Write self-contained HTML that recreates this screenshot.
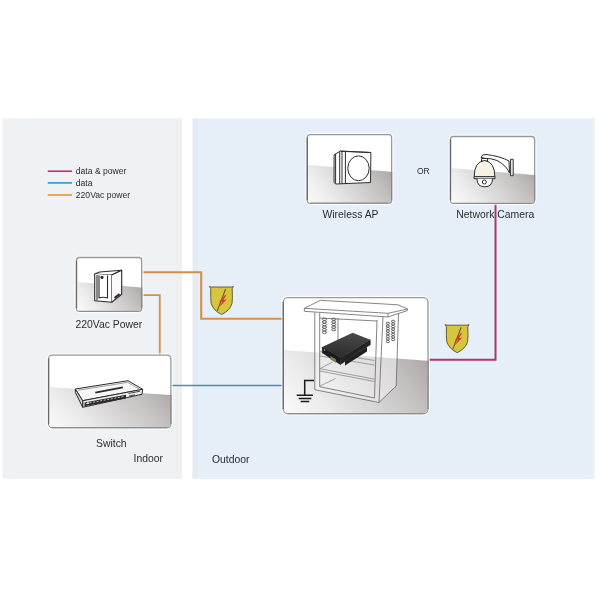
<!DOCTYPE html>
<html><head><meta charset="utf-8">
<style>
html,body{margin:0;padding:0;background:#fff;width:600px;height:600px;overflow:hidden}
svg{display:block;will-change:transform}
text{font-family:"Liberation Sans",sans-serif;fill:#2c2c2c}
</style></head>
<body>
<svg width="600" height="600" viewBox="0 0 600 600">
<defs>
  <linearGradient id="gshade" x1="0" y1="1" x2="1.2" y2="0.6">
    <stop offset="0" stop-color="#fafafa"/>
    <stop offset="0.25" stop-color="#ebebeb"/>
    <stop offset="0.75" stop-color="#c3bfbf"/>
    <stop offset="1" stop-color="#a9a4a4"/>
  </linearGradient>
  <linearGradient id="gdev" x1="0.6" y1="0" x2="0.4" y2="1">
    <stop offset="0" stop-color="#4a4a4a"/>
    <stop offset="1" stop-color="#2c2c2c"/>
  </linearGradient>
</defs>
<!-- panels -->
<rect x="2.8" y="118.5" width="179.2" height="360.2" fill="#eef2f5"/>
<rect x="2.8" y="118.5" width="13" height="360.2" fill="#f0f1f3"/>
<rect x="176" y="118.5" width="6" height="360.2" fill="#f0f0f1"/>
<rect x="192.6" y="118.5" width="401.7" height="360.3" fill="#e6eef8"/>
<rect x="591.7" y="118.5" width="2.6" height="360.3" fill="#ebeff2"/>
<rect x="192.6" y="472" width="399.1" height="6.8" fill="#e9f0f8"/>
<rect x="192.6" y="118.5" width="5" height="360.2" fill="#e6ebf0"/>

<!-- legend -->
<line x1="47.7" y1="171.2" x2="72" y2="171.2" stroke="#b83a78" stroke-width="1.7"/>
<line x1="47.7" y1="182.9" x2="72" y2="182.9" stroke="#3a9ad0" stroke-width="1.7"/>
<line x1="47.7" y1="195" x2="72" y2="195" stroke="#e89a40" stroke-width="1.7"/>
<text x="75.8" y="174.2" font-size="8.6">data &amp; power</text>
<text x="75.8" y="185.7" font-size="8.6">data</text>
<text x="75.8" y="197.6" font-size="8.6">220Vac power</text>

<!-- connection lines -->
<polyline points="142,272.3 201.2,272.3 201.2,318.8 283,318.8" fill="none" stroke="#d4904a" stroke-width="2.1"/>
<polyline points="142,295.2 159.8,295.2 159.8,355" fill="none" stroke="#d0924e" stroke-width="1.8"/>
<line x1="171" y1="385.5" x2="283" y2="385.5" stroke="#4d8cae" stroke-width="1.6"/>
<polyline points="428,359.8 495.5,359.8 495.5,203" fill="none" stroke="#a8386f" stroke-width="2"/>

<!-- device boxes -->
<rect x="76.5" y="257.5" width="65.2" height="53.8" rx="3" fill="#fff" stroke="#fff" stroke-opacity="0.7" stroke-width="4"/>
<rect x="76.5" y="257.5" width="65.2" height="53.8" rx="3" fill="#fff" stroke="#999" stroke-width="1.3"/>
<path d="M77.0,282 L141.2,287.5 L141.2,308.3 Q141.2,310.8 138.7,310.8 L79.5,310.8 Q77.0,310.8 77.0,308.3 Z" fill="url(#gshade)"/>
<path d="M76.5,260.5 L76.5,308.3" stroke="#6a6a6a" stroke-width="1.3"/>
<path d="M141.7,287.5 L141.7,308.3" stroke="#858585" stroke-width="1.2"/>
<path d="M79.5,311.3 L138.7,311.3" stroke="#8e8e8e" stroke-width="1.2"/>
<rect x="48.6" y="355.2" width="122.3" height="72.4" rx="3.5" fill="#fff" stroke="#fff" stroke-opacity="0.7" stroke-width="4"/>
<rect x="48.6" y="355.2" width="122.3" height="72.4" rx="3.5" fill="#fff" stroke="#999" stroke-width="1.3"/>
<path d="M49.1,387 L170.4,395 L170.4,424.1 Q170.4,427.1 167.4,427.1 L52.1,427.1 Q49.1,427.1 49.1,424.1 Z" fill="url(#gshade)"/>
<path d="M48.6,358.7 L48.6,424.1" stroke="#6a6a6a" stroke-width="1.3"/>
<path d="M170.9,395 L170.9,424.1" stroke="#858585" stroke-width="1.2"/>
<path d="M52.1,427.6 L167.4,427.6" stroke="#8e8e8e" stroke-width="1.2"/>
<rect x="307.3" y="134.6" width="84.3" height="68.6" rx="3" fill="#fff" stroke="#fff" stroke-opacity="0.7" stroke-width="4"/>
<rect x="307.3" y="134.6" width="84.3" height="68.6" rx="3" fill="#fff" stroke="#999" stroke-width="1.3"/>
<path d="M307.8,165 L391.1,171.7 L391.1,200.2 Q391.1,202.7 388.6,202.7 L310.3,202.7 Q307.8,202.7 307.8,200.2 Z" fill="url(#gshade)"/>
<path d="M307.3,137.6 L307.3,200.2" stroke="#6a6a6a" stroke-width="1.3"/>
<path d="M391.6,171.7 L391.6,200.2" stroke="#858585" stroke-width="1.2"/>
<path d="M310.3,203.2 L388.6,203.2" stroke="#8e8e8e" stroke-width="1.2"/>
<rect x="450.5" y="136.5" width="84.1" height="66.8" rx="3" fill="#fff" stroke="#fff" stroke-opacity="0.7" stroke-width="4"/>
<rect x="450.5" y="136.5" width="84.1" height="66.8" rx="3" fill="#fff" stroke="#999" stroke-width="1.3"/>
<path d="M451.0,168 L534.1,175 L534.1,200.3 Q534.1,202.8 531.6,202.8 L453.5,202.8 Q451.0,202.8 451.0,200.3 Z" fill="url(#gshade)"/>
<path d="M450.5,139.5 L450.5,200.3" stroke="#6a6a6a" stroke-width="1.3"/>
<path d="M534.6,175 L534.6,200.3" stroke="#858585" stroke-width="1.2"/>
<path d="M453.5,203.3 L531.6,203.3" stroke="#8e8e8e" stroke-width="1.2"/>
<rect x="283.3" y="297.6" width="144.7" height="116.0" rx="4.5" fill="#fff" stroke="#fff" stroke-opacity="0.7" stroke-width="4"/>
<rect x="283.3" y="297.6" width="144.7" height="116.0" rx="4.5" fill="#fff" stroke="#999" stroke-width="1.3"/>
<path d="M283.8,350 L427.5,360.7 L427.5,409.1 Q427.5,413.1 423.5,413.1 L287.8,413.1 Q283.8,413.1 283.8,409.1 Z" fill="url(#gshade)"/>
<path d="M283.3,302.1 L283.3,409.1" stroke="#6a6a6a" stroke-width="1.3"/>
<path d="M428,360.7 L428,409.1" stroke="#858585" stroke-width="1.2"/>
<path d="M287.8,413.6 L423.5,413.6" stroke="#8e8e8e" stroke-width="1.2"/>

<!-- UPS -->
<g fill="none" stroke="#2a2a2a" stroke-width="1.1" stroke-linejoin="round">
  <path d="M94.7,274 L99.7,272 L121.7,270.3 L111.7,275 Z" fill="#fff"/>
  <path d="M94.7,274 L94.7,300.7 L111.7,302.3 L111.7,275" fill="#fff"/>
  <path d="M111.7,275 L121.7,270.3 L121.7,294.3 L111.7,302.3" fill="#fbfbfb"/>
  <path d="M97,275 L97,300.5 M99,275.2 L99,298 Q103,296.5 107.5,298 L107.5,275.6"/>
  <path d="M114.5,298 L119.5,294" stroke-width="2"/>
  <circle cx="102" cy="277.3" r="1.1" fill="#2a2a2a"/>
</g>

<!-- Switch -->
<g stroke="#2c2c2c" stroke-width="1" stroke-linejoin="round">
  <path d="M75.3,389 L128,380.7 L142.7,389.3 L82.7,400.7 Z" fill="#f7f7f7"/>
  <path d="M82.7,400.7 L142.7,389.3 L142,394.3 L82.7,407.3 Z" fill="#ececec"/>
  <path d="M75.3,389 L82.7,400.7 L82.7,407.3 L75.3,392.3 Z" fill="#d0d0d0"/>
  <path d="M78,390.2 L127.5,382.4 L139.5,389.2" fill="none" stroke="#777" stroke-width="0.7"/>
  <path d="M95.3,392.6 L122.8,387.4" stroke-width="1.8"/>
</g>
<g fill="#2a2a2a">
  <path d="M84.5,402.5 L126,394.7 L126,398.6 L84.5,406.3 Z"/>
</g>
<g fill="#e8e8e8">
  <rect x="87" y="402.6" width="2" height="1.6" transform="skewY(-10.7)" transform-origin="87 402.6"/>
</g>
<g stroke="#dcdcdc" stroke-width="0.8" fill="none">
  <path d="M86,403.6 L125,396.3" stroke-dasharray="2 1.6"/>
</g>
<g stroke="#333" stroke-width="0.9" fill="none">
  <path d="M128.5,393.5 L140,391.2 M129,396 L135,394.8"/>
</g>

<!-- AP -->
<g fill="#fff" stroke="#2e2e2e" stroke-width="1" stroke-linejoin="round">
  <path d="M334.1,154.8 L340.5,151 L370.9,152.5 L370.5,182.5 L335.6,184 L334.1,182.5 Z"/>
  <path d="M345.4,151.5 L345.4,183.6 M335.6,154 L335.6,183.5 M339.7,152 L339.7,183.8 M342,151.6 L342,183.7" fill="none"/>
  <path d="M340.5,151.3 L345.4,151.5 L370.9,152.5" fill="none"/>
  <ellipse cx="358.5" cy="168.3" rx="10.7" ry="12.4" fill="#fff"/>
</g>

<!-- Camera -->
<g stroke="#2e2e2e" stroke-width="1" stroke-linejoin="round" fill="#fff">
  <path d="M481,157.5 Q482,154 486,154.5 Q500,156 509,161 L509.5,173 Q506,165 497,160.5 Q490,158 486,158.5 Z"/>
  <rect x="510.6" y="159.3" width="2.6" height="16.4" fill="#f4f4f4"/>
  <path d="M481.5,158.5 L487.5,158.5 L487.5,161 L481.5,161 Z"/>
  <path d="M474.3,176.7 Q474,162 484.5,160.5 Q495,162 494.8,176.7 Z" fill="#f6f2e6"/>
  <rect x="474" y="176.7" width="21" height="2" fill="#eee"/>
  <path d="M477,178.8 Q477,186.8 484.7,186.8 Q492.5,186.8 492.5,178.8" fill="#fbfbfb"/>
  <circle cx="484.3" cy="182" r="2" fill="#fff"/>
</g>

<!-- Cabinet -->
<path d="M314.8,311.5 L388,316.5 L398.5,313.5 L396.2,386 L379,402.5 L314.8,389.7 Z" fill="#fff" fill-opacity="0.4"/>
<g fill="none" stroke="#666" stroke-width="0.8" stroke-linejoin="round">
  <path d="M304.3,308.3 L320.5,300.3 L398,304.8 L407.5,309 L388,313.3 Z" fill="#fff"/>
  <path d="M304.3,308.3 L304.3,311.3 L388,317 L388,313.3"/>
  <path d="M388,317 L407.5,310.5 L407.5,309"/>
  <path d="M314.8,312.5 L314.8,389.7 L379,402.5 L396.2,386 L398.5,313.5"/>
  <path d="M319.7,313 L319.7,386.7 L374.5,398 L377,320"/>
  <path d="M383,316.5 L379,402.5"/>
  <path d="M319.7,318 L377,321"/>
  <path d="M338,318 L338,345"/>
</g>
<g fill="none" stroke="#8a8a8a" stroke-width="0.8">
  <path d="M320,368.7 L374.5,379.2 M320,371 L374.5,381.5 M320,368.7 L332.5,362"/>
  <path d="M320,386 L335.5,378.5"/>
  <path d="M320,351.6 L374.5,360.5 M320,356 L374.5,365"/>
</g>
<g fill="none" stroke="#555" stroke-width="0.9">
  <path d="M322.3,319.3 Q322.3,318.0 324.5,318.2 Q326.7,318.4 326.7,319.3 Q326.7,320.6 324.5,320.4 Q322.3,320.6 322.3,319.3 M322.3,321.9 Q322.3,320.6 324.5,320.8 Q326.7,321.0 326.7,321.9 Q326.7,323.2 324.5,323.0 Q322.3,323.2 322.3,321.9 M322.3,324.5 Q322.3,323.2 324.5,323.4 Q326.7,323.6 326.7,324.5 Q326.7,325.8 324.5,325.6 Q322.3,325.8 322.3,324.5 M322.3,327.1 Q322.3,325.8 324.5,326.0 Q326.7,326.2 326.7,327.1 Q326.7,328.4 324.5,328.2 Q322.3,328.4 322.3,327.1 M322.3,329.7 Q322.3,328.4 324.5,328.6 Q326.7,328.8 326.7,329.7 Q326.7,331.0 324.5,330.8 Q322.3,331.0 322.3,329.7 M322.3,332.3 Q322.3,331.0 324.5,331.2 Q326.7,331.4 326.7,332.3 Q326.7,333.6 324.5,333.4 Q322.3,333.6 322.3,332.3 M331.7,319.3 Q331.7,318.0 333.8,318.2 Q335.8,318.4 335.8,319.3 Q335.8,320.6 333.8,320.4 Q331.7,320.6 331.7,319.3 M331.7,321.9 Q331.7,320.6 333.8,320.8 Q335.8,321.0 335.8,321.9 Q335.8,323.2 333.8,323.0 Q331.7,323.2 331.7,321.9 M331.7,324.5 Q331.7,323.2 333.8,323.4 Q335.8,323.6 335.8,324.5 Q335.8,325.8 333.8,325.6 Q331.7,325.8 331.7,324.5 M331.7,327.1 Q331.7,325.8 333.8,326.0 Q335.8,326.2 335.8,327.1 Q335.8,328.4 333.8,328.2 Q331.7,328.4 331.7,327.1 M331.7,329.7 Q331.7,328.4 333.8,328.6 Q335.8,328.8 335.8,329.7 Q335.8,331.0 333.8,330.8 Q331.7,331.0 331.7,329.7 M386.3,323.3 Q386.3,322.0 387.9,322.2 Q389.5,322.4 389.5,323.3 Q389.5,324.6 387.9,324.4 Q386.3,324.6 386.3,323.3 M386.3,325.9 Q386.3,324.6 387.9,324.8 Q389.5,325.0 389.5,325.9 Q389.5,327.2 387.9,327.0 Q386.3,327.2 386.3,325.9 M386.3,328.5 Q386.3,327.2 387.9,327.4 Q389.5,327.6 389.5,328.5 Q389.5,329.8 387.9,329.6 Q386.3,329.8 386.3,328.5 M386.3,331.1 Q386.3,329.8 387.9,330.0 Q389.5,330.2 389.5,331.1 Q389.5,332.4 387.9,332.2 Q386.3,332.4 386.3,331.1 M386.3,333.7 Q386.3,332.4 387.9,332.6 Q389.5,332.8 389.5,333.7 Q389.5,335.0 387.9,334.8 Q386.3,335.0 386.3,333.7 M386.3,336.3 Q386.3,335.0 387.9,335.2 Q389.5,335.4 389.5,336.3 Q389.5,337.6 387.9,337.4 Q386.3,337.6 386.3,336.3 M386.3,338.9 Q386.3,337.6 387.9,337.8 Q389.5,338.0 389.5,338.9 Q389.5,340.2 387.9,340.0 Q386.3,340.2 386.3,338.9 M386.3,341.5 Q386.3,340.2 387.9,340.4 Q389.5,340.6 389.5,341.5 Q389.5,342.8 387.9,342.6 Q386.3,342.8 386.3,341.5 M391.5,321.3 Q391.5,320.0 393.1,320.2 Q394.8,320.4 394.8,321.3 Q394.8,322.6 393.1,322.4 Q391.5,322.6 391.5,321.3 M391.5,323.9 Q391.5,322.6 393.1,322.8 Q394.8,323.0 394.8,323.9 Q394.8,325.2 393.1,325.0 Q391.5,325.2 391.5,323.9 M391.5,326.5 Q391.5,325.2 393.1,325.4 Q394.8,325.6 394.8,326.5 Q394.8,327.8 393.1,327.6 Q391.5,327.8 391.5,326.5 M391.5,329.1 Q391.5,327.8 393.1,328.0 Q394.8,328.2 394.8,329.1 Q394.8,330.4 393.1,330.2 Q391.5,330.4 391.5,329.1 M391.5,331.7 Q391.5,330.4 393.1,330.6 Q394.8,330.8 394.8,331.7 Q394.8,333.0 393.1,332.8 Q391.5,333.0 391.5,331.7 M391.5,334.3 Q391.5,333.0 393.1,333.2 Q394.8,333.4 394.8,334.3 Q394.8,335.6 393.1,335.4 Q391.5,335.6 391.5,334.3 M391.5,336.9 Q391.5,335.6 393.1,335.8 Q394.8,336.0 394.8,336.9 Q394.8,338.2 393.1,338.0 Q391.5,338.2 391.5,336.9 M391.5,339.5 Q391.5,338.2 393.1,338.4 Q394.8,338.6 394.8,339.5 Q394.8,340.8 393.1,340.6 Q391.5,340.8 391.5,339.5"/>
</g>
<!-- PoE device -->
<g stroke="none">
  <path d="M345,361 L367,347 L367,351.5 L345,365.5 Z" fill="#1e1e1e"/>
  <path d="M322.2,347 L352.6,332.7 L370.3,339.7 L340.4,357.5 Z" fill="url(#gdev)"/>
  <path d="M322.2,347 L340.4,357.5 L340.4,364.5 L322.2,352.8 Z" fill="#1b1b1b" stroke="#1b1b1b" stroke-width="0.5"/>
  <path d="M340.4,357.5 L370.3,339.7 L370.3,344.8 L340.4,364.5 Z" fill="#242424" stroke="#242424" stroke-width="0.5"/>
  <path d="M330.5,356 L336,359.2 L336,362.8 L330.5,359.6 Z" fill="#7d7a4a"/>
  <circle cx="324.5" cy="350" r="0.9" fill="#777"/>
</g>
<!-- ground -->
<g stroke="#1a1a1a" stroke-width="1.5" fill="none">
  <path d="M314,380.5 L304.7,380.5 L304.7,395"/>
  <path d="M296.7,395.3 L313,395.3 M298.7,398.4 L311.3,398.4 M300.7,401.6 L309.3,401.6"/>
</g>

<!-- shields -->
<g id="sh1" transform="translate(209.4,286)">
  <path d="M0,0.4 Q1,0.9 2,1 L22,1 Q23,0.9 24,0.4 L22.8,2.6 Q23.3,13 22.6,17.5 Q20.5,24.5 12.2,28.5 Q3.9,24.5 1.8,17.5 Q1.1,13 1.4,2.6 Z" fill="#d8c53e" stroke="#55512a" stroke-width="0.9"/>
  <path d="M16.2,3 L7.8,25" stroke="#6a5e22" stroke-width="1.1" fill="none"/>
  <path d="M16,8.8 L9.6,16.2 L13,15.2 L10,21 L17.4,13.2 L13.9,14.1 L17.2,8.8 Z" fill="#d6372e"/>
</g>
<g transform="translate(445,324.2)">
  <path d="M0,0.4 Q1,0.9 2,1 L22,1 Q23,0.9 24,0.4 L22.8,2.6 Q23.3,13 22.6,17.5 Q20.5,24.5 12.2,28.5 Q3.9,24.5 1.8,17.5 Q1.1,13 1.4,2.6 Z" fill="#d8c53e" stroke="#55512a" stroke-width="0.9"/>
  <path d="M16.2,3 L7.8,25" stroke="#6a5e22" stroke-width="1.1" fill="none"/>
  <path d="M16,8.8 L9.6,16.2 L13,15.2 L10,21 L17.4,13.2 L13.9,14.1 L17.2,8.8 Z" fill="#d6372e"/>
</g>

<!-- labels -->
<text x="75.5" y="328" font-size="10.4">220Vac Power</text>
<text x="96" y="447" font-size="10.4">Switch</text>
<text x="133.6" y="462.4" font-size="10.4">Indoor</text>
<text x="212" y="463" font-size="10.4">Outdoor</text>
<text x="322.5" y="217.5" font-size="10.4">Wireless AP</text>
<text x="456.3" y="217.8" font-size="10.4">Network Camera</text>
<text x="417" y="173.7" font-size="8.5">OR</text>

</svg>
</body></html>
